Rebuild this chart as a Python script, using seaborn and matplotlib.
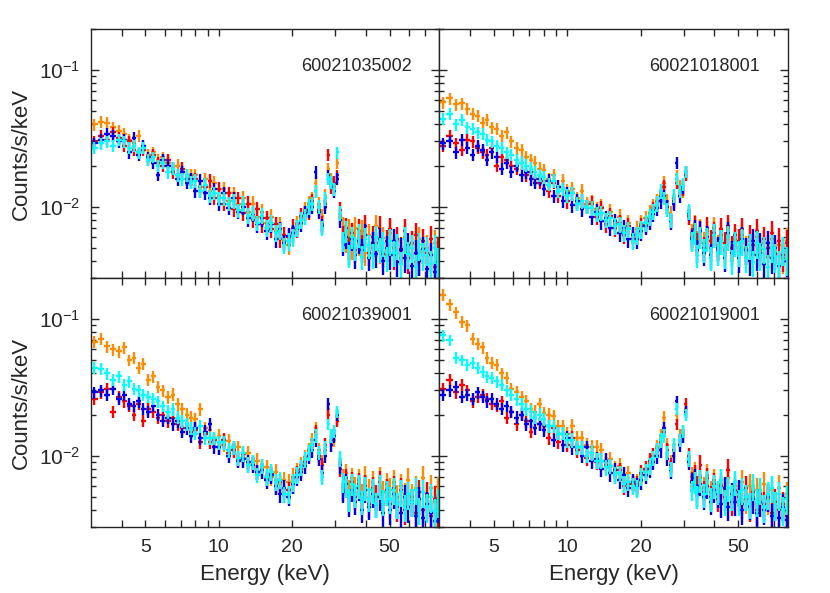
import numpy as np
import pandas as pd
import seaborn as sns
import matplotlib.pyplot as plt
from matplotlib.ticker import FixedLocator, FuncFormatter, LogLocator, NullFormatter

# energy bin centres (keV)
energy = [3.1, 3.3, 3.5, 3.7, 3.9, 4.1, 4.3, 4.5, 4.7, 4.9,
          5.15, 5.4, 5.65, 5.9, 6.2, 6.5, 6.8, 7.1, 7.4, 7.7,
          8.0, 8.4, 8.8, 9.2, 9.6, 10.0, 10.5, 11.0, 11.5, 12.0,
          12.6, 13.2, 13.8, 14.4, 15.0, 15.7, 16.4, 17.1, 17.8, 18.5,
          19.3, 20.1, 20.9, 21.7, 22.5, 23.3, 24.1, 24.9, 25.7, 26.5,
          27.3, 28.1, 28.9, 29.7, 30.5, 31.4, 32.3, 33.2, 34.1, 35.0,
          36.2, 37.4, 38.6, 39.8, 41.2, 42.6, 44.0, 45.5, 47.0, 48.6,
          50.2, 52.0, 53.8, 55.7, 57.6, 59.6, 61.7, 63.9, 66.2, 68.6,
          71.1, 73.7, 76.4, 79.2]

# fractional 1-sigma errors per bin
rel_err = [0.10, 0.10, 0.10, 0.10, 0.10, 0.10, 0.10, 0.10, 0.10, 0.10,
           0.10, 0.10, 0.10, 0.10, 0.11, 0.11, 0.11, 0.11, 0.11, 0.11,
           0.11, 0.11, 0.11, 0.11, 0.11, 0.12, 0.12, 0.12, 0.12, 0.12,
           0.13, 0.13, 0.13, 0.13, 0.13, 0.14, 0.14, 0.14, 0.14, 0.14,
           0.15, 0.15, 0.14, 0.14, 0.13, 0.13, 0.12, 0.11, 0.12, 0.13,
           0.12, 0.10, 0.11, 0.11, 0.10, 0.13, 0.17, 0.18, 0.19, 0.19,
           0.20, 0.20, 0.20, 0.20, 0.20, 0.21, 0.21, 0.21, 0.21, 0.21,
           0.22, 0.22, 0.22, 0.22, 0.22, 0.23, 0.23, 0.23, 0.23, 0.23,
           0.24, 0.24, 0.24, 0.24]

obsids = ["60021035002", "60021018001", "60021039001", "60021019001"]
series = ["orange", "red", "blue", "cyan"]
colors = {"orange": "#ff8c00", "red": "#ff0000", "blue": "#0000f0", "cyan": "#00ffff"}

# count rates in units of 1e-3 counts/s/keV
tl_orange = [40, 42, 41, 38, 36, 34, 31, 29, 33, 27,
             24, 25, 22, 23, 21, 19, 20, 18, 17, 17,
             17, 14, 16, 13, 15, 12, 13.5, 11, 12.5, 10.5,
             11.5, 9.2, 10.5, 8.4, 9.2, 7.6, 8.4, 6.6, 7.4, 5.6,
             5.2, 6.4, 7.5, 8.3, 9.5, 10.5, 11.5, 15, 10.5, 8.5,
             12, 19, 16, 14, 21, 8.5, 7.2, 5.6, 6.8, 5.0,
             7.0, 5.4, 6.6, 4.6, 6.2, 5.0, 7.2, 4.8, 5.9, 4.4,
             6.4, 5.0, 5.6, 4.2, 6.0, 4.6, 5.3, 3.9, 5.8, 4.4,
             5.0, 3.8, 5.4, 4.3]
tl_red = [30, 33, 31, 35, 32, 28, 30, 26, 25, 26,
          22, 24, 21, 20, 22, 18, 17, 19, 16, 15,
          16, 13, 14, 15.5, 11.5, 13.5, 10.5, 12.5, 9.6, 11.5,
          9.0, 10.5, 8.0, 9.6, 7.4, 8.2, 6.8, 7.4, 5.8, 6.2,
          6.0, 7.0, 6.8, 8.5, 9.0, 9.2, 11, 13, 9.5, 7.5,
          10.5, 24, 14, 15, 17, 9.5, 6.2, 7.0, 5.0, 6.4,
          4.8, 6.8, 5.2, 7.2, 4.6, 6.0, 5.4, 7.0, 4.5, 5.6,
          6.8, 4.4, 5.8, 4.9, 6.6, 4.2, 5.4, 6.2, 4.0, 5.6,
          4.6, 5.8, 3.6, 4.8]
tl_blue = [29, 31, 34, 33, 30, 31, 25, 32, 24, 28,
           23, 21, 17, 22, 20, 19, 16, 18, 15, 16,
           13, 15.5, 12.5, 11.5, 13.5, 10.5, 12.5, 9.8, 11.5, 9.2,
           10, 8.2, 8.8, 7.4, 8.2, 6.6, 7.4, 5.8, 6.8, 5.4,
           6.1, 6.4, 7.0, 7.6, 9.0, 9.5, 10, 18, 9.2, 7.2,
           10, 17, 15, 13, 16, 8.0, 5.2, 6.0, 4.6, 5.8,
           4.4, 5.6, 4.8, 6.2, 4.2, 5.4, 4.5, 5.8, 4.0, 5.0,
           4.4, 5.6, 3.9, 4.8, 4.2, 5.2, 3.7, 4.6, 4.0, 4.9,
           3.5, 4.4, 3.3, 4.0]
tl_cyan = [27, 29, 30, 28, 31, 30, 27, 28, 25, 27,
           22, 23, 20, 21, 18, 19, 17, 16, 17, 15,
           15.5, 13, 14.5, 12, 12.5, 11.5, 11.5, 10.5, 11, 9.4,
           10.5, 8.6, 9.0, 7.6, 8.6, 7.0, 7.6, 6.4, 6.6, 5.2,
           5.6, 6.0, 7.0, 8.0, 8.5, 10, 10.5, 13, 10, 7.0,
           11.5, 16, 15, 13.5, 25, 9.0, 5.6, 6.6, 4.4, 6.0,
           5.0, 6.2, 4.3, 5.8, 5.2, 4.4, 6.0, 4.9, 5.4, 4.2,
           5.6, 4.6, 5.2, 3.8, 5.8, 4.5, 5.0, 3.6, 5.2, 4.4,
           4.8, 3.8, 5.0, 4.0]

tr_orange = [58, 62, 56, 57, 52, 48, 46, 41, 43, 38,
             37, 33, 35, 30, 27, 26, 23, 22, 21, 19,
             18.5, 16, 17, 14, 15.5, 13, 13.5, 11.5, 13, 10.5,
             10.8, 9.6, 10, 8.0, 9.2, 7.4, 8.4, 6.6, 7.6, 6.2,
             6.8, 7.5, 8.2, 9.0, 10, 11, 12.5, 15, 11, 9.0,
             11.5, 17, 14, 13, 18, 8.5, 6.4, 7.4, 5.6, 6.8,
             5.4, 6.6, 5.0, 7.0, 5.2, 6.2, 4.8, 6.8, 5.0, 5.8,
             4.6, 6.2, 5.0, 5.6, 4.4, 6.0, 4.8, 5.4, 4.3, 5.8,
             4.6, 5.2, 4.2, 5.6]
tr_red = [28, 33, 29, 26, 31, 30, 27, 25, 24, 27,
          20, 23, 22, 20, 19, 21, 17, 18, 16, 15,
          15.5, 13, 15, 12, 13.5, 11, 12.5, 10.5, 11, 10,
          10.5, 8.4, 9.8, 7.4, 8.6, 7.0, 7.6, 6.2, 7.2, 5.8,
          6.2, 7.2, 7.5, 8.2, 9.5, 10.5, 12, 14, 10, 8.0,
          11, 15, 13, 13.5, 17, 8.5, 6.0, 7.2, 5.4, 6.6,
          5.0, 7.0, 5.6, 6.4, 4.8, 6.8, 5.4, 7.2, 5.0, 6.2,
          5.6, 6.8, 4.8, 6.0, 5.2, 6.6, 4.6, 5.8, 5.0, 6.4,
          4.5, 5.6, 4.4, 5.4]
tr_blue = [29, 30, 25, 31, 27, 24, 28, 26, 22, 25,
           23, 19, 21, 18, 20, 17, 18, 16, 15, 16,
           13.5, 15.5, 12, 14, 11, 12.5, 10.2, 11, 9.6, 10,
           8.4, 9.2, 7.8, 8.2, 7.0, 7.8, 6.4, 7.0, 5.8, 6.2,
           5.8, 6.6, 7.2, 7.8, 8.8, 9.8, 11, 12, 10, 7.8,
           10.5, 21, 12, 14, 18, 9.0, 5.8, 6.8, 4.8, 6.6,
           4.6, 6.0, 4.4, 6.2, 5.0, 5.6, 4.2, 6.4, 4.6, 5.4,
           4.2, 5.8, 4.8, 4.0, 5.6, 4.4, 5.2, 3.8, 5.4, 4.2,
           5.0, 3.7, 4.8, 4.0]
tr_cyan = [44, 48, 40, 43, 38, 37, 35, 34, 31, 30,
           28, 27, 25, 24, 22, 21, 20, 19, 18, 17,
           16.5, 14.5, 15.5, 13, 13.5, 12, 12.5, 10.5, 11, 10,
           9.8, 8.8, 9.0, 8.0, 8.2, 7.2, 7.4, 6.4, 6.8, 5.6,
           6.2, 6.8, 7.6, 8.4, 9.2, 10.5, 13, 11.5, 9.5, 8.0,
           12, 16, 13, 14.5, 18, 9.2, 5.6, 6.4, 4.4, 6.0,
           4.8, 5.8, 4.2, 6.2, 4.6, 5.6, 4.4, 6.0, 4.0, 5.4,
           4.6, 5.6, 4.2, 5.2, 3.9, 5.4, 4.4, 4.9, 3.6, 5.0,
           4.3, 3.8, 4.8, 4.1]

bl_orange = [68, 72, 63, 60, 58, 62, 50, 52, 44, 47,
             36, 38, 32, 30, 27, 28, 24, 22, 20, 19,
             18.5, 22, 16, 15.5, 13.5, 14, 12, 12.8, 11, 11.5,
             9.6, 10.4, 8.6, 9.2, 7.8, 8.2, 7.0, 7.6, 6.2, 6.6,
             6.4, 7.0, 7.8, 8.6, 9.8, 11, 13, 16, 11, 9.0,
             11, 22, 14, 13, 19, 9.0, 6.8, 7.4, 5.6, 6.8,
             5.8, 6.6, 5.2, 7.0, 5.6, 6.4, 5.0, 6.8, 5.4, 6.2,
             5.6, 6.4, 5.0, 6.0, 5.2, 6.6, 5.0, 5.8, 4.8, 6.8,
             5.0, 5.8, 4.6, 5.6]
bl_red = [26, 29, 31, 21, 27, 25, 23, 20, 24, 18,
          22, 21, 19, 20, 18, 19, 17, 16, 17, 15,
          15.5, 12.5, 14.5, 12.5, 13, 11.5, 13, 10.5, 11, 9.4,
          10.2, 8.6, 9.0, 7.6, 8.4, 6.8, 7.4, 6.0, 6.4, 5.2,
          5.6, 6.2, 7.4, 8.0, 9.0, 10.5, 12, 15, 10, 8.5,
          12, 20, 13, 15, 18, 8.0, 5.6, 6.8, 4.8, 6.4,
          5.0, 6.2, 4.6, 6.0, 4.4, 5.8, 5.0, 6.4, 4.6, 5.6,
          4.4, 5.8, 4.2, 5.6, 4.0, 5.2, 4.6, 3.8, 5.4, 4.0,
          5.2, 3.6, 4.8, 3.4]
bl_blue = [29, 30, 28, 31, 26, 28, 24, 23, 25, 22,
           21, 23, 20, 18, 19, 17, 18, 15, 16, 14,
           16, 13.5, 15, 17, 11.5, 11.5, 12.5, 10, 11.5, 9.2,
           9.4, 9.0, 8.6, 7.6, 7.8, 6.6, 7.2, 6.0, 5.2, 5.8,
           5.0, 6.2, 7.0, 7.6, 8.4, 10, 11, 13, 9.5, 7.5,
           10, 24, 12, 14, 20, 8.5, 5.4, 6.2, 4.4, 5.6,
           4.6, 5.8, 4.0, 5.6, 4.2, 5.2, 4.4, 5.0, 3.8, 5.4,
           4.0, 5.2, 4.4, 3.8, 5.0, 4.2, 4.6, 3.6, 4.8, 3.5,
           4.4, 3.8, 3.3, 4.2]
bl_cyan = [44, 43, 40, 36, 38, 33, 35, 31, 30, 28,
           27, 26, 25, 23, 21, 22, 19, 18, 17, 16,
           14.5, 16.5, 13.5, 13.5, 13.5, 12.5, 12.5, 11, 11.5, 9.6,
           10.4, 8.6, 9.0, 7.2, 8.4, 7.0, 7.6, 6.4, 6.6, 5.2,
           5.2, 6.4, 7.2, 8.2, 9.4, 10.5, 12, 14, 10.5, 7.0,
           11.5, 17, 14, 15, 21, 9.5, 6.4, 6.0, 4.8, 6.2,
           5.2, 6.0, 4.6, 5.8, 4.8, 5.6, 4.4, 6.0, 4.6, 5.4,
           4.8, 5.6, 4.4, 5.4, 4.2, 5.2, 4.6, 5.6, 4.0, 5.4,
           4.2, 5.0, 3.9, 4.6]

br_orange = [150, 128, 112, 95, 90, 72, 66, 62, 52, 48,
             46, 40, 37, 31, 29, 27, 25, 22, 21, 24,
             20.5, 20, 19.5, 16.5, 16.5, 14.5, 16.5, 13.5, 13.5, 12,
             11.5, 11.5, 11, 9.2, 9.4, 8.0, 8.4, 7.2, 7.4, 6.4,
             6.4, 7.2, 7.8, 8.8, 10, 11.5, 14, 19, 12, 9.0,
             12, 20, 14, 15, 22, 9.5, 7.0, 7.6, 6.0, 6.8,
             5.8, 7.2, 5.4, 6.6, 5.2, 6.2, 5.6, 6.8, 5.0, 6.0,
             5.4, 6.4, 4.8, 6.0, 5.0, 5.6, 4.6, 6.2, 4.8, 5.6,
             4.4, 5.8, 4.4, 5.2]
br_red = [31, 36, 29, 33, 30, 25, 27, 28, 26, 24,
          23, 25, 19, 21, 17, 20, 18, 15, 19, 17,
          16.5, 13.5, 16, 12.5, 14.5, 12, 13.5, 11, 11.5, 9.6,
          10.5, 9.0, 9.2, 8.6, 8.4, 7.2, 7.8, 6.0, 6.2, 6.2,
          6.2, 7.4, 8.0, 9.2, 10, 11, 12.5, 15, 11, 8.5,
          11, 17, 13, 14, 24, 10, 6.5, 7.2, 6.0, 8.5,
          5.4, 6.8, 5.0, 6.2, 4.8, 6.0, 5.0, 7.8, 4.6, 5.6,
          5.0, 4.4, 5.8, 4.2, 5.4, 4.0, 5.2, 4.4, 5.0, 3.8,
          4.6, 4.0, 4.4, 3.6]
br_blue = [28, 30, 32, 27, 28, 26, 29, 27, 25, 26,
           24, 22, 23, 21, 19, 20, 17, 18, 16, 17,
           15.5, 16.5, 13, 14.5, 12, 13.5, 11.5, 11.5, 10, 11.5,
           9.2, 9.4, 8.0, 9.2, 7.4, 7.8, 6.6, 7.2, 5.8, 6.4,
           6.0, 6.6, 7.2, 8.0, 9.0, 10, 11, 16, 9.5, 7.8,
           10, 25, 12, 14, 21, 9.0, 6.4, 6.8, 5.2, 6.2,
           5.0, 6.0, 4.6, 5.6, 5.2, 4.4, 5.8, 4.2, 5.2, 4.6,
           5.4, 4.0, 5.0, 4.3, 4.8, 3.8, 4.6, 4.0, 5.0, 3.6,
           4.4, 3.5, 4.2, 3.4]
br_cyan = [76, 70, 52, 50, 46, 48, 44, 41, 38, 37,
           35, 33, 30, 28, 26, 24, 22, 21, 19, 20,
           18.5, 16.5, 16.5, 14.5, 14.5, 13, 13, 11.5, 11.5, 10,
           10.5, 9.2, 9.2, 8.2, 8.4, 7.2, 7.4, 6.2, 6.4, 6.0,
           5.8, 7.0, 7.6, 8.4, 9.6, 11, 13, 14, 10.5, 8.0,
           12, 22, 13, 15, 20, 9.5, 5.6, 6.4, 5.0, 6.6,
           5.2, 6.4, 4.8, 6.0, 5.4, 6.6, 4.6, 5.8, 5.0, 6.4,
           4.6, 5.6, 5.0, 4.4, 6.0, 4.6, 5.6, 4.2, 5.2, 5.8,
           4.4, 5.2, 4.0, 4.8]

panels = {
    "60021035002": [tl_orange, tl_red, tl_blue, tl_cyan],
    "60021018001": [tr_orange, tr_red, tr_blue, tr_cyan],
    "60021039001": [bl_orange, bl_red, bl_blue, bl_cyan],
    "60021019001": [br_orange, br_red, br_blue, br_cyan],
}

# bin edges from the centres, spectrum spans 3-80 keV
e = np.array(energy)
edges = np.concatenate([[3.0], (e[:-1] + e[1:]) / 2, [80.0]])

rows = []
for obs, vals in panels.items():
    for name, v in zip(series, vals):
        assert len(v) == len(energy), (obs, name, len(v))
        for i, r in enumerate(v):
            rows.append(dict(obsid=obs, series=name, energy=energy[i],
                             rate=r * 1e-3, err=r * 1e-3 * rel_err[i],
                             xlo=energy[i] - edges[i], xhi=edges[i + 1] - energy[i]))
df = pd.DataFrame(rows)

sns.set_style("ticks")
plt.rcParams["font.family"] = ["Liberation Sans", "DejaVu Sans"]
plt.rcParams["mathtext.fontset"] = "custom"
plt.rcParams["mathtext.rm"] = "Liberation Sans"
plt.rcParams["mathtext.it"] = "Liberation Sans:italic"

fig, axes = plt.subplots(2, 2, figsize=(8.3, 5.93), dpi=100, sharex=True, sharey=True,
                         gridspec_kw=dict(left=0.1096, right=0.9494, top=0.9511,
                                          bottom=0.1113, wspace=0, hspace=0))

for ax, obs in zip(axes.flat, obsids):
    sub = df[df.obsid == obs]
    for name in series:
        s = sub[sub.series == name]
        ax.errorbar(s.energy, s.rate, yerr=s.err, xerr=[s.xlo, s.xhi], fmt="none",
                    ecolor=colors[name], elinewidth=1.7, capsize=0)
    ax.set_xscale("log")
    ax.set_yscale("log")
    ax.set_xlim(3, 80)
    ax.set_ylim(0.003, 0.2)
    ax.text(0.92, 0.85, obs, transform=ax.transAxes, ha="right", va="center", fontsize=13)

    ax.xaxis.set_major_locator(FixedLocator([4, 5, 6, 7, 8, 9, 10, 20, 30, 40, 50, 60, 70]))
    ax.xaxis.set_minor_locator(FixedLocator([]))
    ax.xaxis.set_major_formatter(FuncFormatter(lambda v, p: f"{v:g}" if v in (5, 10, 20, 50) else ""))
    ax.yaxis.set_major_locator(LogLocator(base=10))
    ax.yaxis.set_minor_locator(LogLocator(base=10, subs=np.arange(2, 10)))
    ax.yaxis.set_minor_formatter(NullFormatter())
    ax.tick_params(axis="both", which="both", direction="in", top=True, right=True, width=1)
    ax.tick_params(axis="x", which="major", length=5, pad=9, labelsize=14)
    ax.tick_params(axis="y", which="major", length=6, pad=8, labelsize=15)
    ax.tick_params(axis="y", which="minor", length=3.5)
    for sp in ax.spines.values():
        sp.set_linewidth(1)

for ax in axes[:, 0]:
    ax.set_ylabel("Counts/s/keV", fontsize=16)
    ax.yaxis.set_label_coords(-0.17, 0.5)
for ax in axes[1, :]:
    ax.set_xlabel("Energy (keV)", fontsize=16)
    ax.xaxis.set_label_coords(0.5, -0.15)
for ax in axes[:, 1]:
    ax.tick_params(axis="y", which="both", labelleft=False)
for ax in axes[0, :]:
    ax.tick_params(axis="x", which="both", labelbottom=False)

fig.savefig("out.png", dpi=100)
